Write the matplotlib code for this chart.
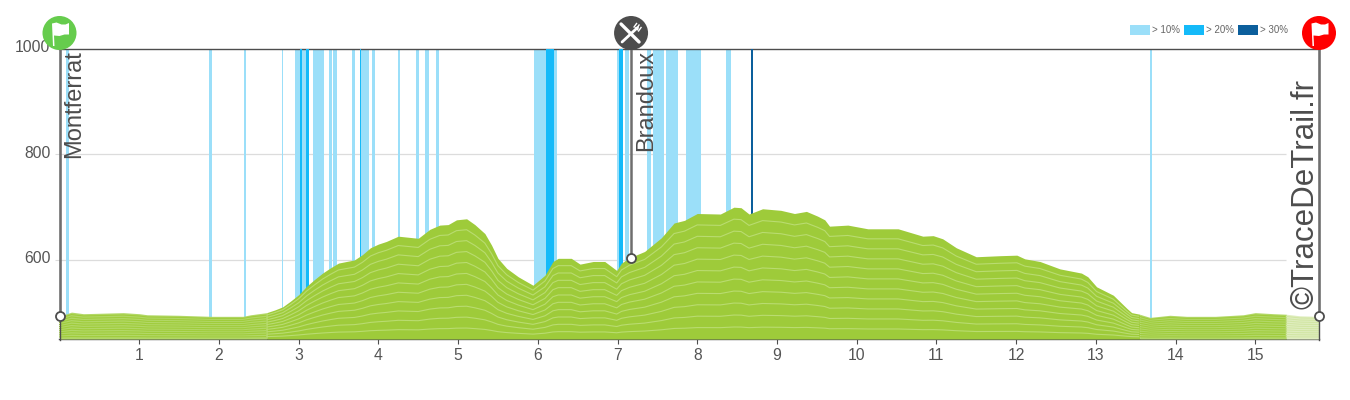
import numpy as np
import matplotlib
matplotlib.use("Agg")
import matplotlib.pyplot as plt
from matplotlib.patches import Circle, Polygon, Rectangle

plt.rcParams['font.family'] = ['Liberation Sans', 'DejaVu Sans']

# profile
km = np.array([0, 0.15, 0.3, 0.8, 1.0, 1.1, 1.5, 1.9, 2.3, 2.4, 2.6, 2.7, 2.8, 2.9, 3.0, 3.1, 3.2, 3.3, 3.4,
               3.5, 3.6, 3.7, 3.8, 3.9, 4.0, 4.1, 4.25, 4.5, 4.646, 4.77, 4.876, 4.98, 5.107, 5.21, 5.336, 5.42,
               5.5, 5.61, 5.755, 5.94, 6.09, 6.19, 6.256, 6.42, 6.53, 6.695, 6.84, 6.99, 7.05, 7.15, 7.34,
               7.55, 7.71, 7.84, 8.0, 8.29, 8.46, 8.55, 8.65, 8.82, 9.05, 9.22, 9.37, 9.51, 9.6, 9.66, 9.89,
               10.14, 10.52, 10.83, 10.96, 11.08, 11.25, 11.5, 11.8, 12.01, 12.11, 12.3, 12.55, 12.82, 12.9,
               13.01, 13.22, 13.39, 13.45, 13.55, 13.68, 13.93, 14.14, 14.5, 14.85, 15.0, 15.23, 15.39, 15.56, 15.8])
elevation = np.array([493, 501, 498, 500, 498, 496, 495, 493, 493, 496, 500, 505, 511, 522, 534, 550, 563, 575, 585,
                      594, 597, 600, 610, 623, 630, 635, 645, 641, 658, 666, 667, 676, 678, 667, 650, 628,
                      603, 584, 568, 552, 571, 597, 603, 603, 592, 597, 597, 580, 594, 604, 616,
                      642, 670, 675, 688, 687, 700, 699, 687, 697, 694, 688, 692, 683, 676, 664, 666,
                      659, 659, 645, 646, 640, 623, 606, 608, 609, 602, 597, 583, 575, 568,
                      549, 533, 508, 500, 497, 491, 495, 493, 493, 496, 500, 498, 497, 494, 493])

# steep sections, (start km, end km)
bands_10 = [(0.079, 0.117), (1.877, 1.91), (2.312, 2.337), (2.79, 2.81), (2.952, 3.128), (3.178, 3.316),
            (3.379, 3.417), (3.429, 3.48), (3.667, 3.705), (3.768, 3.881), (3.919, 3.957), (4.245, 4.27),
            (4.47, 4.508), (4.583, 4.633), (4.72, 4.76), (5.95, 6.24), (6.992, 7.067), (7.092, 7.15),
            (7.37, 7.42), (7.44, 7.58), (7.606, 7.757), (7.858, 8.046), (8.36, 8.423), (13.68, 13.705)]
bands_20 = [(3.015, 3.04), (3.09, 3.128), (3.768, 3.777), (6.10, 6.20), (7.017, 7.067)]
bands_30 = [(8.674, 8.70)]

x_ticks = list(range(1, 16))
y_ticks = [600, 800, 1000]
legend_labels = ['> 10%', '> 20%', '> 30%']

BLUE_10 = '#9bdff9'
BLUE_20 = '#14baf9'
BLUE_30 = '#0c5f9c'
DARK = '#4d4d4d'
GREY = '#6e6e6e'
X_MAX = 15.8
LEFT, RIGHT, TOP, BOTTOM = 59.5, 1319.0, 49.0, 339.0

fig = plt.figure(figsize=(13.5, 4), dpi=100)
ax = fig.add_axes([LEFT / 1350, (400 - BOTTOM) / 400, (RIGHT - LEFT) / 1350, (BOTTOM - TOP) / 400])
ax.set_xlim(0, X_MAX)
ax.set_ylim(450, 1000)

ax.hlines([600, 800], 0, 15.39, color='#dcdcdc', lw=0.9, zorder=1)
for bands, col, z in ((bands_10, BLUE_10, 2), (bands_20, BLUE_20, 3), (bands_30, BLUE_30, 3)):
    for a, b in bands:
        ax.axvspan(a, b, color=col, lw=0, zorder=z)

# fill and contour lines per section
sections = [(0, 2.6, '#b2d866', '#a0cc3c', 0.8), (2.6, 13.55, '#9ecb3a', '#b9dc70', 0.8),
            (13.55, 15.39, '#b2d866', '#a0cc3c', 0.8), (15.39, 15.8, '#e0eec0', '#d2e6a4', 0.8)]
for a, b, fill, line, width in sections:
    m = (km >= a) & (km <= b)
    ax.fill_between(km[m], 450, elevation[m], color=fill, lw=0, zorder=4)
    for i in range(1, 11):
        ax.plot(km[m], 450 + (elevation[m] - 450) * i / 11, color=line, lw=width, zorder=5)

for s in ('left', 'right'):
    ax.spines[s].set_visible(False)
ax.spines['top'].set_color(DARK)
ax.spines['top'].set_linewidth(1.0)
ax.spines['bottom'].set_color(DARK)
ax.spines['bottom'].set_linewidth(1.0)

ax.set_xticks(x_ticks)
ax.set_yticks(y_ticks)
ax.set_yticklabels([])
ax.tick_params(axis='x', length=3.5, width=0.8, color=DARK, labelcolor='#555555', labelsize=11.3, pad=3)
ax.tick_params(axis='y', length=3, width=0.8, color='#dcdcdc')

# overlay in pixels for markers, icons and legend
ov = fig.add_axes([0, 0, 1, 1], zorder=10)
ov.set_xlim(0, 1350)
ov.set_ylim(400, 0)
ov.axis('off')
ov.patch.set_alpha(0)


def px(k):
    return LEFT + k * (RIGHT - LEFT) / X_MAX


def py(e):
    return BOTTOM - (e - 450) * (BOTTOM - TOP) / 550


for v in y_ticks:
    ov.text(50.5, py(v) - 1, str(v), ha='right', va='center', fontsize=11.3, color='#555555')

ov.plot([LEFT, LEFT], [BOTTOM + 1, TOP], color=DARK, lw=1, zorder=1)
ov.plot([RIGHT, RIGHT], [BOTTOM + 1, TOP], color=DARK, lw=1, zorder=1)
stops = [(0, 'Montferrat', '#66cc4d'), (7.17, 'Brandoux', DARK), (X_MAX, '©TraceDeTrail.fr', '#ff0000')]
heights = [493, 604, 493]
for (k, name, col), h in zip(stops, heights):
    x = px(k)
    ov.plot([x, x], [TOP, py(h)], color=GREY, lw=1.8, zorder=2)
    ov.plot(x, py(h), 'o', ms=6.5, mfc='white', mec=DARK, mew=1.3, zorder=4)
    ov.add_patch(Circle((x, 33), 17, fc=col, ec='none', zorder=3))
    if k == 0 or k == X_MAX:
        xs = np.array([-7.5, -3, 2, 6, 9.5, 9.5, 5, 0, -5.5, -5, -4, -6.5]) + x
        ys = np.array([-9.5, -10.5, -8.5, -8.5, -10, 1.5, 1.5, 3, 2.5, 13, 13, 13]) + 33
        ov.add_patch(Polygon(np.column_stack([xs, ys]), fc='white', ec='none', zorder=5))
    else:
        # knife and fork
        ov.plot([x - 10, x + 8], [24, 42], color='white', lw=2.4, solid_capstyle='round', zorder=5)
        ov.plot([x - 9, x + 6], [42, 28], color='white', lw=2.0, solid_capstyle='round', zorder=5)
        ov.add_patch(Polygon([(x + 3.5, 27.5), (x + 8, 26), (x + 7, 31)], fc='white', ec='none', zorder=5))
        for dx, dy in ((5.5, 23.5), (8, 25), (10, 27.5)):
            ov.plot([x + dx, x + dx - 2.5], [dy, dy + 3.5], color='white', lw=1.0, zorder=5)

ov.text(63.5, 50, 'Montferrat', rotation=90, ha='left', va='top', fontsize=17, color=DARK, zorder=6)
ov.text(635, 50, 'Brandoux', rotation=90, ha='left', va='top', fontsize=17, color=DARK, zorder=6)
ov.text(1291, 79, '©TraceDeTrail.fr', rotation=90, ha='left', va='top', fontsize=22.5, color=DARK, zorder=6)

for x, lab, col in zip([1130, 1184, 1238], legend_labels, [BLUE_10, BLUE_20, BLUE_30]):
    ov.add_patch(Rectangle((x, 25), 20, 10, fc=col, ec='none'))
    ov.text(x + 21.5, 30, lab, ha='left', va='center', fontsize=7.0, color='#666666')

fig.savefig('out.png', dpi=100)
